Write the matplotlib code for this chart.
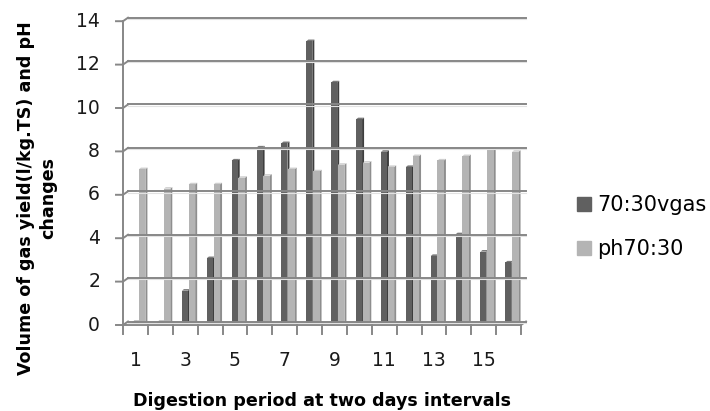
import matplotlib
matplotlib.use("Agg")
import matplotlib.pyplot as plt
from matplotlib.patches import Patch

# ---------------------------------------------------------------------------
# Data
# ---------------------------------------------------------------------------
periods = list(range(1, 17))
gas_yield = [0.05, 0.05, 1.5, 3.0, 7.5, 8.1, 8.3, 13.0,
             11.1, 9.4, 7.9, 7.2, 3.1, 4.1, 3.3, 2.8]
ph_values = [7.1, 6.2, 6.4, 6.4, 6.7, 6.8, 7.1, 7.0,
             7.3, 7.4, 7.2, 7.7, 7.5, 7.7, 8.0, 7.9]
y_ticks = [0, 2, 4, 6, 8, 10, 12, 14]
x_labels = [1, 3, 5, 7, 9, 11, 13, 15]
series_names = ["70:30vgas", "ph70:30"]

# ---------------------------------------------------------------------------
# Styling
# ---------------------------------------------------------------------------
plt.rcParams["font.family"] = ["DejaVu Sans"]
GRID = "#878787"
DARK = ("#606060", "#3e3e3e", "#7a7a7a")     # front, side, top
LIGHT = ("#b4b4b4", "#8e8e8e", "#cfcfcf")

W, H = 710, 411
fig = plt.figure(figsize=(W / 100, H / 100), dpi=100)

# axes = back wall of the pseudo-3D box
left_px, right_px, top_px, bot_px = 128, 526, 17.7, 321.5
ax = fig.add_axes([left_px / W, (H - bot_px) / H,
                   (right_px - left_px) / W, (bot_px - top_px) / H])
n = len(periods)
ax.set_xlim(0, n)
ax.set_ylim(0, 14)
ax.axis("off")

ux = (right_px - left_px) / n      # pixels per category
uy = (bot_px - top_px) / 14        # pixels per y unit
FX, FY = -5 / ux, -3.5 / uy        # front plane offset
lw = 1.4

# floor
ax.fill([FX, n + FX, n, 0], [FY, FY, 0, 0], color="#f6f6f6", lw=0, clip_on=False)
ax.plot([FX, n + FX, n], [FY, FY, 0], color=GRID, lw=lw, clip_on=False)

# back wall gridlines, left wall edges and y ticks
for v in y_ticks:
    ax.plot([0, n], [v - 1.3 / uy, v - 1.3 / uy], color="#e2e2e2", lw=0.8,
            clip_on=False)
    ax.plot([0, n], [v, v], color=GRID, lw=lw, clip_on=False)
    ax.plot([FX - 7 / ux, FX, 0], [v + FY, v + FY, v], color=GRID, lw=lw,
            clip_on=False)
    ax.annotate(str(v), xy=(FX, v + FY), xytext=(-23, 0),
                textcoords="offset pixels", ha="right", va="center",
                fontsize=13.5, color="#1a1a1a", annotation_clip=False)
ax.plot([FX, FX], [FY, 14 + FY], color=GRID, lw=lw, clip_on=False)

# category ticks and labels on the front edge
for i in range(n + 1):
    ax.plot([i + FX, i + FX], [FY, FY - 9 / uy], color=GRID, lw=lw, clip_on=False)
for lab in x_labels:
    ax.annotate(str(lab), xy=(lab - 0.5 + FX, FY), xytext=(0, -35),
                textcoords="offset pixels", ha="center", va="center",
                fontsize=13.5, color="#1a1a1a", annotation_clip=False)

# columns: front face via bar(), then side and top faces
base = -0.08
dx, dy = 2.0 / ux, 1.6 / uy
x_idx = [p - 1 for p in periods]
for vals, offset, width, cols in [(gas_yield, 0.17, 0.24, DARK),
                                  (ph_values, 0.44, 0.26, LIGHT)]:
    xs = [i + offset for i in x_idx]
    for x0, h in zip(xs, vals):
        x1 = x0 + width
        ax.fill([x1, x1 + dx, x1 + dx, x1], [base, base + dy, h + base + dy, h + base],
                color=cols[1], lw=0, clip_on=False)
        ax.fill([x0, x1, x1 + dx, x0 + dx], [h + base, h + base, h + base + dy, h + base + dy],
                color=cols[2], lw=0, clip_on=False)
    ax.bar(xs, vals, width=width, bottom=base, align="edge",
           color=cols[0], lw=0, clip_on=False)

# axis titles
fig.text(322 / W, 1 - 401 / H, "Digestion period at two days intervals",
         ha="center", va="center", fontsize=12.6, fontweight="bold")
fig.text(37 / W, 1 - 198 / H, "Volume of gas yield(l/kg.TS) and pH\nchanges",
         rotation=90, ha="center", va="center", multialignment="center",
         fontsize=12.6, fontweight="bold", linespacing=1.35)

# legend
handles = [Patch(color=DARK[0]), Patch(color=LIGHT[0])]
fig.legend(handles, series_names, loc="upper left",
           bbox_to_anchor=(577 / W, 1 - 195 / H), frameon=False,
           fontsize=15, handlelength=0.65, handleheight=0.65,
           handletextpad=0.3, labelspacing=1.15, borderpad=0,
           borderaxespad=0)

fig.savefig("out.png", dpi=100)
